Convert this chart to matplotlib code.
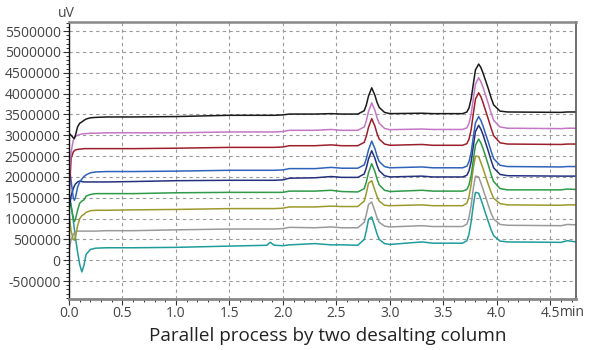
import matplotlib
matplotlib.use("Agg")
import matplotlib.pyplot as plt
from matplotlib.ticker import MultipleLocator, FuncFormatter
import numpy as np

plt.rcParams['font.family'] = ['Open Sans', 'DejaVu Sans']

# time axis (min), shared by all traces
t = [0.00, 0.02, 0.04, 0.05, 0.06, 0.08, 0.10, 0.12, 0.14, 0.16,
     0.20, 0.25, 0.35, 0.60, 1.00, 1.50, 1.85, 1.88, 1.92, 2.00,
     2.06, 2.30, 2.45, 2.55,
     2.70, 2.76, 2.78, 2.80, 2.83, 2.86, 2.88, 2.90, 2.95, 3.00,
     3.30, 3.40, 3.68,
     3.72, 3.74, 3.76, 3.78, 3.80, 3.83, 3.85, 3.87, 3.895, 3.92,
     3.945, 3.97, 4.03, 4.10,
     4.60, 4.66, 4.74]

# signals in millions of uV (top trace first)
black = [3.05, 3.00, 2.94, 2.92, 3.00, 3.20, 3.29, 3.32, 3.36, 3.39,
         3.42, 3.43, 3.44, 3.44, 3.45, 3.48, 3.48, 3.48, 3.48, 3.49,
         3.51, 3.51, 3.52, 3.51,
         3.51, 3.59, 3.73, 3.94, 4.14, 3.96, 3.79, 3.67, 3.55, 3.52,
         3.53, 3.52, 3.52,
         3.56, 3.66, 3.88, 4.23, 4.57, 4.71, 4.63, 4.50, 4.31, 4.12,
         3.91, 3.73, 3.58, 3.56,
         3.55, 3.56, 3.56]
pink = [2.00, 2.60, 2.88, 2.94, 2.97, 3.00, 3.02, 3.03, 3.04, 3.04,
        3.05, 3.05, 3.06, 3.06, 3.06, 3.08, 3.08, 3.08, 3.08, 3.09,
        3.12, 3.12, 3.14, 3.12,
        3.12, 3.20, 3.35, 3.57, 3.78, 3.60, 3.42, 3.29, 3.165, 3.135,
        3.15, 3.14, 3.14,
        3.18, 3.29, 3.51, 3.88, 4.23, 4.38, 4.29, 4.16, 3.96, 3.76,
        3.55, 3.36, 3.20, 3.17,
        3.16, 3.17, 3.17]
darkred = [1.50, 2.45, 2.60, 2.63, 2.65, 2.66, 2.67, 2.67, 2.68, 2.68,
           2.68, 2.68, 2.68, 2.68, 2.69, 2.71, 2.71, 2.71, 2.71, 2.72,
           2.75, 2.75, 2.77, 2.75,
           2.75, 2.83, 2.98, 3.19, 3.40, 3.22, 3.04, 2.91, 2.79, 2.76,
           2.78, 2.76, 2.76,
           2.80, 2.91, 3.14, 3.52, 3.87, 4.02, 3.93, 3.79, 3.59, 3.39,
           3.18, 2.99, 2.82, 2.79,
           2.78, 2.79, 2.79]
blue = [2.30, 1.90, 1.50, 1.44, 1.50, 1.75, 1.88, 1.95, 2.01, 2.05,
        2.10, 2.12, 2.13, 2.13, 2.14, 2.16, 2.16, 2.16, 2.16, 2.17,
        2.20, 2.20, 2.23, 2.21,
        2.21, 2.29, 2.44, 2.65, 2.86, 2.68, 2.50, 2.37, 2.25, 2.22,
        2.24, 2.22, 2.22,
        2.26, 2.37, 2.59, 2.96, 3.30, 3.45, 3.36, 3.23, 3.03, 2.84,
        2.63, 2.44, 2.28, 2.25,
        2.24, 2.25, 2.25]
navy = [1.20, 1.55, 1.72, 1.78, 1.83, 1.88, 1.90, 1.89, 1.88, 1.88,
        1.88, 1.88, 1.88, 1.89, 1.91, 1.92, 1.92, 1.92, 1.92, 1.93,
        1.97, 1.98, 2.01, 1.99,
        1.99, 2.07, 2.22, 2.43, 2.63, 2.45, 2.28, 2.15, 2.03, 2.00,
        2.02, 2.00, 2.00,
        2.04, 2.15, 2.37, 2.74, 3.09, 3.24, 3.15, 3.02, 2.82, 2.62,
        2.41, 2.22, 2.06, 2.03,
        2.02, 2.02, 2.02]
green = [1.55, 1.30, 1.02, 0.93, 0.98, 1.20, 1.37, 1.42, 1.45, 1.54,
         1.58, 1.60, 1.60, 1.60, 1.62, 1.63, 1.63, 1.63, 1.63, 1.63,
         1.66, 1.66, 1.68, 1.65,
         1.64, 1.72, 1.88, 2.10, 2.32, 2.13, 1.95, 1.81, 1.68, 1.65,
         1.68, 1.66, 1.66,
         1.70, 1.81, 2.04, 2.41, 2.76, 2.91, 2.82, 2.69, 2.49, 2.29,
         2.07, 1.89, 1.72, 1.69,
         1.69, 1.71, 1.70]
olive = [1.10, 0.70, 0.50, 0.48, 0.55, 0.82, 1.00, 1.07, 1.10, 1.15,
         1.19, 1.20, 1.20, 1.21, 1.22, 1.24, 1.24, 1.24, 1.24, 1.25,
         1.28, 1.28, 1.30, 1.29,
         1.29, 1.42, 1.61, 1.85, 1.91, 1.68, 1.53, 1.42, 1.32, 1.31,
         1.33, 1.31, 1.31,
         1.37, 1.53, 1.82, 2.22, 2.50, 2.49, 2.35, 2.21, 2.01, 1.82,
         1.64, 1.49, 1.36, 1.33,
         1.32, 1.33, 1.33]
gray = [0.24, 0.50, 0.62, 0.66, 0.68, 0.70, 0.70, 0.70, 0.70, 0.70,
        0.70, 0.70, 0.71, 0.71, 0.73, 0.75, 0.75, 0.75, 0.75, 0.76,
        0.79, 0.78, 0.80, 0.78,
        0.78, 0.91, 1.10, 1.34, 1.40, 1.18, 1.02, 0.91, 0.82, 0.80,
        0.83, 0.81, 0.81,
        0.87, 1.03, 1.32, 1.73, 2.02, 2.00, 1.86, 1.71, 1.52, 1.32,
        1.14, 0.99, 0.86, 0.84,
        0.83, 0.86, 0.85]
teal = [1.60, 1.30, 0.95, 0.75, 0.55, 0.20, -0.10, -0.28, -0.12, 0.14,
        0.26, 0.29, 0.30, 0.30, 0.31, 0.34, 0.36, 0.43, 0.36, 0.35,
        0.37, 0.40, 0.37, 0.37,
        0.36, 0.50, 0.71, 0.98, 1.04, 0.80, 0.63, 0.50, 0.40, 0.38,
        0.44, 0.41, 0.41,
        0.47, 0.63, 0.93, 1.33, 1.63, 1.61, 1.47, 1.32, 1.12, 0.93,
        0.74, 0.59, 0.46, 0.44,
        0.43, 0.47, 0.44]

traces = [teal, gray, olive, green, navy, blue, darkred, pink, black]
colors = ['#1f9c9c', '#9a9a9a', '#9c9a2c', '#2f9a48', '#25307e',
          '#2f62ba', '#9c1f2c', '#c477c4', '#1a1a1a']

fig = plt.figure(figsize=(5.9, 3.5), dpi=100)
ax = fig.add_axes([69 / 590, 1 - 299 / 350, 507 / 590, 277 / 350])

for y, c in zip(traces, colors):
    ax.plot(t, np.array(y) * 1e6, color=c, lw=1.1, solid_joinstyle='round')

ax.set_xlim(0, 4.74)
ax.set_ylim(-930000, 5720000)
ax.xaxis.set_major_locator(MultipleLocator(0.5))
ax.xaxis.set_minor_locator(MultipleLocator(0.1))
ax.yaxis.set_major_locator(MultipleLocator(500000))
ax.yaxis.set_minor_locator(MultipleLocator(100000))
ax.xaxis.set_major_formatter(FuncFormatter(lambda v, p: '%.1f' % v))
ax.yaxis.set_major_formatter(FuncFormatter(lambda v, p: '%d' % round(v)))

ax.grid(True, which='major', color='#999999', ls=(0, (3, 3)), lw=0.8)
ax.tick_params(which='both', direction='out', colors='#333333',
               labelcolor='#444444', labelsize=10)
ax.tick_params(which='major', length=4, width=0.8, pad=2)
ax.tick_params(which='minor', length=2, width=0.7)
ax.tick_params(axis='x', pad=1)

ax.spines['left'].set_color('#111111')
ax.spines['left'].set_linewidth(1.0)
ax.spines['bottom'].set_color('#888888')
ax.spines['bottom'].set_linewidth(2.0)
ax.spines['top'].set_color('#888888')
ax.spines['top'].set_linewidth(1.8)
ax.spines['right'].set_color('#555555')
ax.spines['right'].set_linewidth(1.2)

ax.text(-0.005, 1.005, 'uV', transform=ax.transAxes, ha='center', va='bottom',
        fontsize=10, color='#444444')
ax.text(4.585, -0.022, 'min', transform=ax.get_xaxis_transform(), ha='left',
        va='top', fontsize=10, color='#444444')

fig.text(328 / 590, 1 - 336 / 350, 'Parallel process by two desalting column',
         ha='center', va='center', fontsize=13.6, color='#222222')

fig.savefig('out.png', dpi=100)
